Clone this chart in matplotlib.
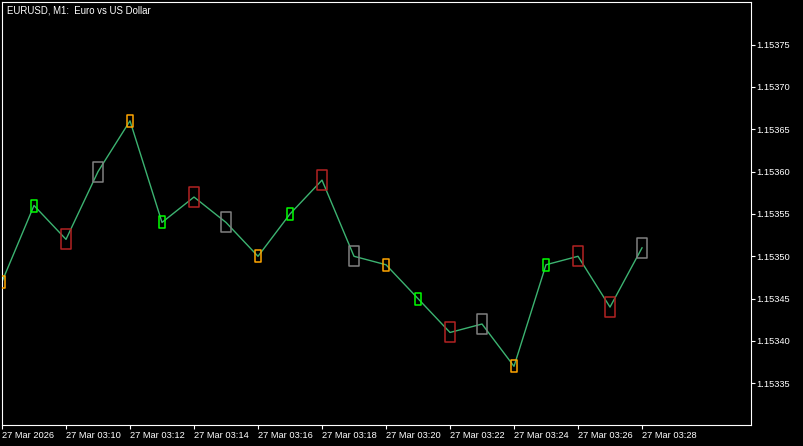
import numpy as np
import matplotlib
matplotlib.use("Agg")
import matplotlib.pyplot as plt
from matplotlib.path import Path

# EURUSD M1 closing prices, 27 Mar 2026 03:08 .. 03:28
close = [1.15347, 1.15356, 1.15352, 1.15360, 1.15366, 1.15354, 1.15357,
         1.15354, 1.15350, 1.15355, 1.15359, 1.15350, 1.15349, 1.15345,
         1.15341, 1.15342, 1.15337, 1.15349, 1.15350, 1.15344, 1.15351]
# signal box drawn on each bar
box_kind = ["orange", "green", "red", "gray", "orange", "green", "red",
            "gray", "orange", "green", "red", "gray", "orange", "green",
            "red", "gray", "orange", "green", "red", "red", "gray"]
x_tick_labels = ["27 Mar 2026", "27 Mar 03:10", "27 Mar 03:12", "27 Mar 03:14",
                 "27 Mar 03:16", "27 Mar 03:18", "27 Mar 03:20", "27 Mar 03:22",
                 "27 Mar 03:24", "27 Mar 03:26", "27 Mar 03:28"]
y_ticks = [1.15335, 1.15340, 1.15345, 1.15350, 1.15355, 1.15360, 1.15365,
           1.15370, 1.15375]
title = "EURUSD, M1:  Euro vs US Dollar"


def rect_marker(aspect):
    w = aspect / 2
    return Path([(-w, -0.5), (w, -0.5), (w, 0.5), (-w, 0.5), (-w, -0.5)],
                [Path.MOVETO, Path.LINETO, Path.LINETO, Path.LINETO, Path.CLOSEPOLY])


small_box = rect_marker(0.52)
large_box = rect_marker(0.46)
box_style = {
    "orange": dict(color="#FFA500", marker=small_box, size=9.0),
    "green": dict(color="#00FF00", marker=small_box, size=9.0),
    "red": dict(color="#B22222", marker=large_box, size=14.8),
    "gray": dict(color="#808080", marker=large_box, size=14.8),
}

plt.rcParams["font.family"] = ["Liberation Sans", "DejaVu Sans"]
fs = 6.7

W, H = 804, 446
fig = plt.figure(figsize=(W / 100, H / 100), dpi=100, facecolor="black")
ax = fig.add_axes([2 / W, (H - 425) / H, (751 - 2) / W, (425 - 2) / H])
ax.set_facecolor("black")

x = np.arange(len(close))
ax.plot(x, close, color="#3CB371", lw=1.0, zorder=2)

for kind, st in box_style.items():
    idx = [i for i, k in enumerate(box_kind) if k == kind]
    ax.plot(x[idx], [close[i] for i in idx], linestyle="none",
            marker=st["marker"], markersize=st["size"], markerfacecolor="none",
            markeredgecolor=st["color"], markeredgewidth=1.1, zorder=3)

ax.set_xlim(0, 23.406)
ax.set_ylim(1.1533007, 1.1538004)

for s in ax.spines.values():
    s.set_color("white")
    s.set_linewidth(0.8)

ax.set_xticks(x[::2][:len(x_tick_labels)])
ax.set_xticklabels(x_tick_labels, ha="left")
ax.set_yticks(y_ticks)
ax.set_yticklabels([f"{v:.5f}" for v in y_ticks])
ax.yaxis.tick_right()
ax.tick_params(axis="both", colors="white", labelcolor="white", direction="out",
               length=3, width=0.8, labelsize=fs)
ax.tick_params(axis="x", pad=1.5)
ax.tick_params(axis="y", pad=0.8)

fig.text(7 / W, 1 - 13.3 / H, title, color="white", fontsize=6.9, va="baseline",
         ha="left")

fig.savefig("out.png", dpi=100, facecolor="black")
